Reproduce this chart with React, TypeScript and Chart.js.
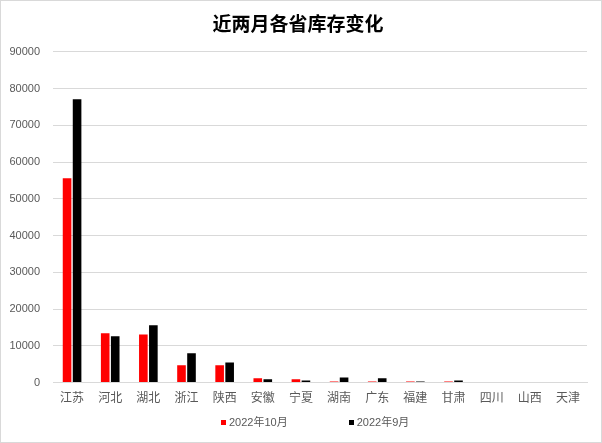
import { useEffect, useRef } from 'react';
import { Chart, registerables } from 'chart.js';

Chart.register(...registerables);

const provinces = ['江苏', '河北', '湖北', '浙江', '陕西', '安徽', '宁夏', '湖南', '广东', '福建', '甘肃', '四川', '山西', '天津'];
const oct2022 = [55600, 13400, 13100, 4700, 4700, 1200, 900, 300, 300, 300, 300, 0, 0, 0];
const sep2022 = [77100, 12600, 15600, 8000, 5500, 900, 600, 1400, 1200, 300, 600, 0, 0, 0];
const seriesNames = ['2022年10月', '2022年9月'];
const seriesColors = ['#ff0000', '#000000'];

const FONT = "'Liberation Sans', 'Noto Sans CJK SC', sans-serif";

export default function App() {
  const canvasRef = useRef<HTMLCanvasElement>(null);
  const chartRef = useRef<Chart | null>(null);

  useEffect(() => {
    document.body.style.margin = '0';
    if (!canvasRef.current) return;
    if (chartRef.current) chartRef.current.destroy();

    chartRef.current = new Chart(canvasRef.current, {
      type: 'bar',
      data: {
        labels: provinces,
        datasets: [oct2022, sep2022].map((d, i) => ({
          label: seriesNames[i],
          data: d,
          backgroundColor: seriesColors[i],
          borderWidth: 0,
          categoryPercentage: 0.525,
          barPercentage: 0.86,
        })),
      },
      options: {
        animation: false,
        responsive: false,
        maintainAspectRatio: false,
        layout: { padding: { left: 8, right: 14, top: 0, bottom: 35 } },
        plugins: {
          title: {
            display: true,
            text: '近两月各省库存变化',
            color: '#000',
            font: { family: "'Noto Sans CJK SC', sans-serif", size: 19, weight: 'bold' },
            padding: { top: 11, bottom: 17 },
          },
          legend: { display: false },
          tooltip: { enabled: false },
        },
        scales: {
          x: {
            grid: { display: false },
            border: { color: '#d9d9d9' },
            ticks: { color: '#595959', font: { family: FONT, size: 12 }, padding: 1, maxRotation: 0, autoSkip: false },
          },
          y: {
            min: 0,
            max: 90000,
            grid: { color: '#d9d9d9', drawTicks: false },
            border: { display: false },
            ticks: {
              stepSize: 10000,
              color: '#595959',
              font: { family: FONT, size: 11 },
              padding: 13,
              callback: (v) => String(v),
            },
            afterFit: (s) => {
              s.width = 44;
            },
          },
        },
      },
    });

    return () => {
      if (chartRef.current) chartRef.current.destroy();
    };
  }, []);

  return (
    <div
      style={{
        position: 'relative',
        width: 602,
        height: 443,
        border: '1px solid #d9d9d9',
        boxSizing: 'border-box',
        background: '#fff',
      }}
    >
      <canvas ref={canvasRef} width={600} height={441} style={{ display: 'block' }} />
      <div
        style={{
          position: 'absolute',
          left: 220,
          top: 415,
          display: 'flex',
          gap: 61,
          fontFamily: FONT,
          fontSize: 11,
          color: '#595959',
          lineHeight: '13px',
        }}
      >
        {seriesNames.map((n, i) => (
          <div key={n} style={{ display: 'flex', alignItems: 'center' }}>
            <span style={{ width: 5, height: 5, background: seriesColors[i], marginRight: 3 }} />
            <span>{n}</span>
          </div>
        ))}
      </div>
    </div>
  );
}
